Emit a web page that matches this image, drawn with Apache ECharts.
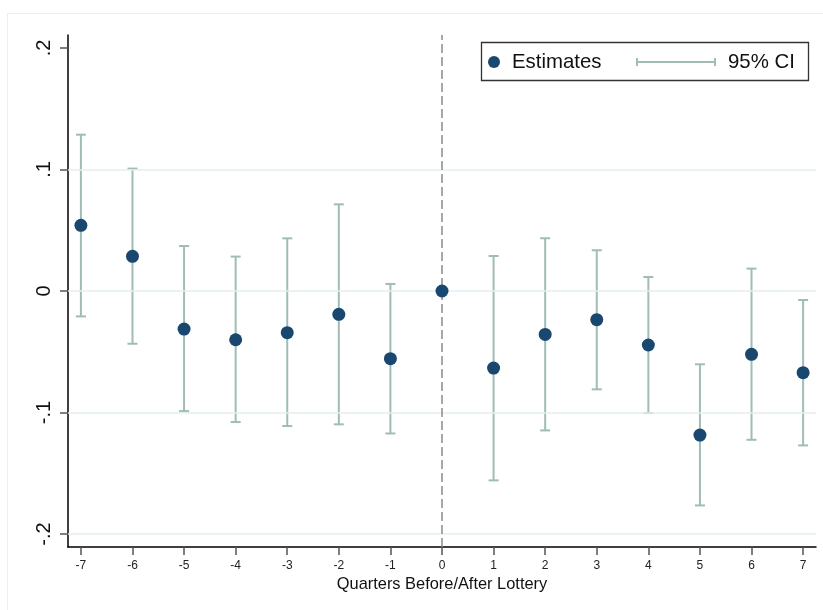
<!DOCTYPE html>
<html>
<head>
<meta charset="utf-8">
<script src="https://cdn.jsdelivr.net/npm/echarts@6/dist/echarts.min.js"></script>
<style>
html,body{margin:0;padding:0;background:#fff;}
#chart{width:823px;height:610px;}
</style>
</head>
<body>
<div id="chart"></div>
<script>
var quarters = [-7, -6, -5, -4, -3, -2, -1, 0, 1, 2, 3, 4, 5, 6, 7];
var estimates = [0.054, 0.0285, -0.0313, -0.0401, -0.0343, -0.0192, -0.0557, 0, -0.0634, -0.0357, -0.0236, -0.0444, -0.1185, -0.0521, -0.0672];
var ciLow = [-0.0209, -0.0434, -0.0988, -0.1078, -0.1111, -0.1097, -0.1172, null, -0.1558, -0.1147, -0.0809, -0.1004, -0.1764, -0.1224, -0.127];
var ciHigh = [0.1286, 0.1007, 0.037, 0.0283, 0.0433, 0.0713, 0.0058, null, 0.0288, 0.0434, 0.0335, 0.0115, -0.0603, 0.0184, -0.0074];
var yTicks = [-0.2, -0.1, 0, 0.1, 0.2];
var yTickLabels = ['-.2', '-.1', '0', '.1', '.2'];
var gridValues = [-0.2, -0.1, 0, 0.1];
var xTitle = 'Quarters Before/After Lottery';

var FONT = 'Liberation Sans, Arial, Helvetica, sans-serif';
var ciColor = '#9fbdb4';
var ptColor = '#1a476f';

var ptData = quarters.map(function (q, i) { return [q, estimates[i]]; });
var ciData = [];
quarters.forEach(function (q, i) {
  if (ciLow[i] !== null && ciHigh[i] !== null) ciData.push([q, ciLow[i], ciHigh[i]]);
});

var chart = echarts.init(document.getElementById('chart'), null, {renderer: 'canvas'});
chart.setOption({
  animation: false,
  backgroundColor: '#ffffff',
  textStyle: {fontFamily: FONT},
  grid: {left: 68, right: 7, top: 35, bottom: 63, containLabel: false},
  xAxis: {
    type: 'value',
    min: -7.25, max: 7.25,
    name: xTitle,
    nameLocation: 'middle',
    nameGap: 26,
    nameTextStyle: {fontSize: 16.4, color: '#111', fontFamily: FONT},
    axisLine: {show: true, onZero: false, lineStyle: {color: '#000', width: 1.5}},
    axisTick: {show: true, length: 8, lineStyle: {color: '#555', width: 1.5}, customValues: quarters},
    axisLabel: {show: true, fontSize: 12, color: '#222', margin: 13, customValues: quarters,
      formatter: function (v) { return String(Math.round(v)); }},
    splitLine: {show: false}
  },
  yAxis: {
    type: 'value',
    min: -0.2106, max: 0.2106,
    axisLine: {show: true, onZero: false, lineStyle: {color: '#000', width: 1.5}},
    axisTick: {show: true, length: 8, lineStyle: {color: '#555', width: 1.5}, customValues: yTicks},
    axisLabel: {show: true, fontSize: 20, color: '#111', rotate: 90, margin: 14, customValues: yTicks,
      formatter: function (v) {
        for (var i = 0; i < yTicks.length; i++) { if (Math.abs(v - yTicks[i]) < 1e-9) return yTickLabels[i]; }
        return '';
      }},
    splitLine: {show: false}
  },
  legend: [
    {
      data: [{name: 'Estimates', icon: 'circle'}],
      left: 488, top: 50, padding: 0,
      itemWidth: 12, itemHeight: 12,
      selectedMode: false,
      textStyle: {fontSize: 20.4, color: '#111', fontFamily: FONT, lineHeight: 24, padding: [0, 0, 0, 7]}
    },
    {
      data: [{name: '95% CI', icon: 'path://M0,0h2v8h-2z M0,3h80v2h-80z M78,0h2v8h-2z'}],
      left: 636, top: 50, padding: 0,
      itemWidth: 80, itemHeight: 8,
      selectedMode: false,
      textStyle: {fontSize: 20.4, color: '#111', fontFamily: FONT, lineHeight: 24, padding: [0, 0, 0, 7]}
    }
  ],
  graphic: [
    {type: 'rect', shape: {x: 7.5, y: 13.5, width: 900, height: 700}, z: -10,
      style: {fill: 'transparent', stroke: '#eeeeee', lineWidth: 1}, silent: true},
    {type: 'rect', shape: {x: 481.5, y: 42.5, width: 327, height: 38}, z: 100,
      style: {fill: 'transparent', stroke: '#333', lineWidth: 1.3}, silent: true}
  ],
  series: [
    {
      type: 'line', name: 'guides', data: [], silent: true, z: 1,
      markLine: {
        silent: true, symbol: 'none', animation: false,
        label: {show: false},
        data: gridValues.map(function (v) {
          return {yAxis: v, lineStyle: {color: '#e5eef0', width: 1.5, type: 'solid'}};
        }).concat([{xAxis: 0, lineStyle: {color: '#8a8a8a', width: 1.5, type: [9, 4]}}])
      }
    },
    {
      type: 'custom', name: '95% CI', z: 3,
      itemStyle: {color: ciColor},
      data: ciData,
      renderItem: function (params, api) {
        var x = api.value(0);
        var lo = api.coord([x, api.value(1)]);
        var hi = api.coord([x, api.value(2)]);
        var w = 5;
        var st = {stroke: ciColor, lineWidth: 2};
        return {
          type: 'group',
          children: [
            {type: 'line', shape: {x1: lo[0], y1: lo[1], x2: hi[0], y2: hi[1]}, style: st},
            {type: 'line', shape: {x1: lo[0] - w, y1: lo[1], x2: lo[0] + w, y2: lo[1]}, style: st},
            {type: 'line', shape: {x1: hi[0] - w, y1: hi[1], x2: hi[0] + w, y2: hi[1]}, style: st}
          ]
        };
      }
    },
    {
      type: 'scatter', name: 'Estimates', z: 5,
      symbol: 'circle', symbolSize: 13,
      itemStyle: {color: ptColor, opacity: 1},
      data: ptData
    }
  ]
});
</script>
</body>
</html>
